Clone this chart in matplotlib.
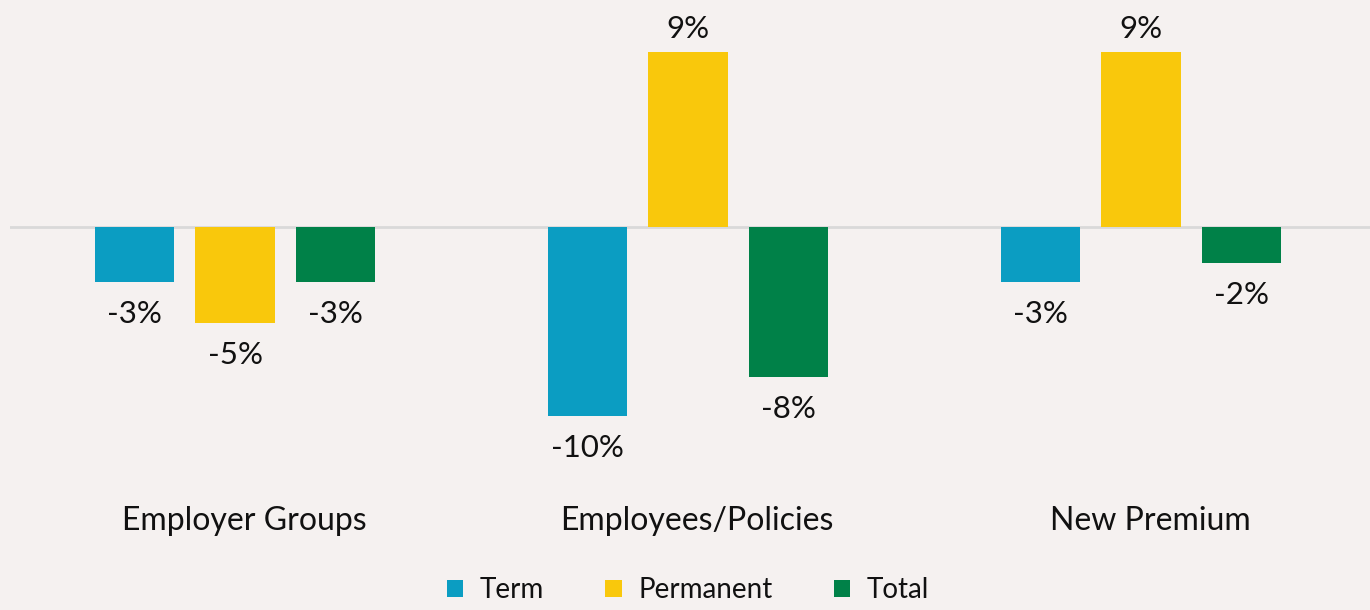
import matplotlib.pyplot as plt
from matplotlib.patches import Patch
from matplotlib.transforms import ScaledTranslation
import numpy as np

# Data (percent change)
categories = ["Employer Groups", "Employees/Policies", "New Premium"]
series = ["Term", "Permanent", "Total"]
term = [-2.8, -9.7, -2.8]
permanent = [-4.9, 9.0, 9.0]
total = [-2.8, -7.7, -1.85]
colors = ["#0b9dc2", "#f9c80c", "#008148"]

bg = "#f5f1f0"
plt.rcParams['font.family'] = ['Lato', 'DejaVu Sans']

fig = plt.figure(figsize=(13.7, 6.1), dpi=100, facecolor=bg)
# axes placed so rows 20..480 px from top hold the plot
ax = fig.add_axes([10 / 1370, (610 - 480) / 610, 1360 / 1370, 460 / 610])
ax.set_facecolor(bg)

x = np.arange(len(categories))
width = 0.176
offset = 0.222
for i, (name, vals, c) in enumerate(zip(series, [term, permanent, total], colors)):
    pos = x + (i - 1) * offset
    bars = ax.bar(pos, vals, width, color=c, label=name, zorder=2)
    for b, v in zip(bars, vals):
        va = 'bottom' if v >= 0 else 'top'
        dy = 6 if v >= 0 else -13
        ax.annotate(f"{round(v):d}%", (b.get_x() + b.get_width() / 2, v),
                    xytext=(0, dy), textcoords='offset points',
                    ha='center', va=va, fontsize=22.5, color='#111111')

ax.axhline(0, color='#d9d9d9', linewidth=2, zorder=1)

# x range: group centres at 235, 688, 1141 px (453 px apart)
ax.set_xlim((10 - 235) / 453, (1370 - 235) / 453)
ax.set_ylim(-(480 - 227) / 19.5, (227 - 20) / 19.5)

ax.set_xticks(x)
ax.set_xticklabels(categories, fontsize=23, color='#111111')
ax.tick_params(axis='x', length=0, pad=19)
# category labels sit slightly right of the group centre in the original
shift = ScaledTranslation(0.09, 0, fig.dpi_scale_trans)
for lbl in ax.get_xticklabels():
    lbl.set_transform(lbl.get_transform() + shift)
ax.set_yticks([])
for s in ax.spines.values():
    s.set_visible(False)

handles = [Patch(facecolor=c, label=n) for n, c in zip(series, colors)]
fig.legend(handles=handles, loc='center', bbox_to_anchor=(688 / 1370, 1 - 590 / 610),
           ncol=3, frameon=False, fontsize=20, handlelength=0.58, handleheight=0.58,
           handletextpad=0.6, columnspacing=2.2, labelcolor='#111111')

fig.savefig("out.png", dpi=100, facecolor=bg)
